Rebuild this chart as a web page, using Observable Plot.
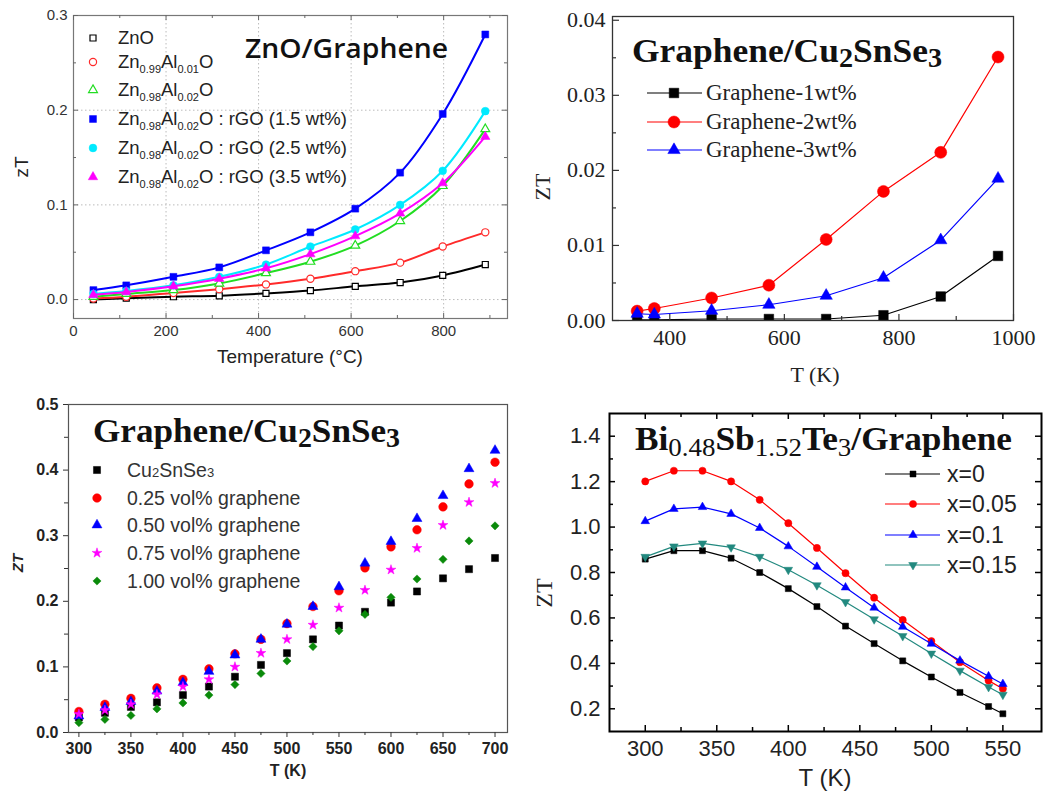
<!DOCTYPE html>
<html><head><meta charset="utf-8">
<script src="https://cdn.jsdelivr.net/npm/d3@7"></script>
<script src="https://cdn.jsdelivr.net/npm/@observablehq/plot@0.6"></script>
<style>
body{margin:0;background:#fff;}
#fig{position:relative;width:1045px;height:791px;overflow:hidden;background:#fff;}
</style></head><body><div id="fig"></div>
<script>
// ===== Panel A: ZnO/Graphene =====
const aTemp = [43,114,216,315,416,512,609,706,798,890];
const aNames = ["ZnO","Zn_{0.99}Al_{0.01}O","Zn_{0.98}Al_{0.02}O","Zn_{0.98}Al_{0.02}O : rGO (1.5 wt%)","Zn_{0.98}Al_{0.02}O : rGO (2.5 wt%)","Zn_{0.98}Al_{0.02}O : rGO (3.5 wt%)"];
const aZnO   = [0.000,0.0015,0.003,0.004,0.0065,0.0095,0.014,0.018,0.0255,0.037];
const aAl01  = [0.001,0.003,0.007,0.011,0.016,0.022,0.030,0.039,0.056,0.071];
const aAl02  = [0.003,0.006,0.010,0.017,0.028,0.040,0.057,0.083,0.120,0.180];
const aRgo15 = [0.010,0.015,0.024,0.034,0.052,0.071,0.096,0.134,0.196,0.280];
const aRgo25 = [0.006,0.009,0.015,0.024,0.037,0.056,0.074,0.100,0.136,0.199];
const aRgo35 = [0.005,0.008,0.014,0.022,0.033,0.048,0.067,0.091,0.123,0.172];
const aXMajor = [0,200,400,600,800], aXMinor = [100,300,500,700,900];
const aYMajor = [0,0.1,0.2,0.3], aYMinor = [0.05,0.15,0.25];

// ===== Panel B: Graphene/Cu2SnSe3 (wt%) =====
const bTemp = [343,373,473,573,673,773,873,973];
const bNames = ["Graphene-1wt%","Graphene-2wt%","Graphene-3wt%"];
const b1 = [0.0001,0.0001,0.0002,0.0002,0.0002,0.0007,0.0032,0.0086];
const b2 = [0.00125,0.0016,0.0030,0.0047,0.0108,0.0172,0.0224,0.0351];
const b3 = [0.0009,0.0008,0.0013,0.0021,0.0033,0.0057,0.0107,0.0189];
const bXMajor = [400,600,800,1000], bXMinor = [500,700,900];
const bYMajor = [0,0.01,0.02,0.03,0.04], bYMinor = [0.005,0.015,0.025,0.035];

// ===== Panel C: Graphene/Cu2SnSe3 (vol%) =====
const cTemp = [300,325,350,375,400,425,450,475,500,525,550,575,600,625,650,675,700];
const cNames = ["Cu_{2}SnSe_{3}","0.25 vol% graphene","0.50 vol% graphene","0.75 vol% graphene","1.00 vol% graphene"];
const cBase = [0.023,0.030,0.039,0.046,0.057,0.070,0.085,0.103,0.121,0.142,0.163,0.184,0.198,0.215,0.235,0.249,0.266];
const c025  = [0.032,0.043,0.052,0.068,0.081,0.097,0.120,0.142,0.166,0.192,0.216,0.251,0.283,0.309,0.344,0.379,0.412];
const c050  = [0.025,0.038,0.047,0.063,0.076,0.093,0.118,0.142,0.165,0.192,0.222,0.258,0.291,0.326,0.361,0.402,0.430];
const c075  = [0.028,0.034,0.043,0.058,0.070,0.081,0.100,0.121,0.142,0.164,0.190,0.217,0.248,0.281,0.316,0.351,0.380];
const c100  = [0.015,0.020,0.026,0.036,0.045,0.057,0.073,0.090,0.109,0.131,0.155,0.180,0.206,0.234,0.264,0.292,0.315];
const cXMajor = [300,350,400,450,500,550,600,650,700], cXMinor = [325,375,425,475,525,575,625,675];
const cYMajor = [0,0.1,0.2,0.3,0.4,0.5], cYMinor = [0.05,0.15,0.25,0.35,0.45];

// ===== Panel D: Bi0.48Sb1.52Te3/Graphene =====
const dTemp = [300,320,340,360,380,400,420,440,460,480,500,520,540,550];
const dNames = ["x=0","x=0.05","x=0.1","x=0.15"];
const d0   = [0.859,0.896,0.896,0.863,0.800,0.729,0.650,0.564,0.487,0.411,0.340,0.272,0.210,0.178];
const d005 = [1.201,1.248,1.248,1.201,1.120,1.017,0.908,0.797,0.689,0.591,0.498,0.405,0.324,0.288];
const d01  = [1.026,1.080,1.088,1.058,0.996,0.915,0.825,0.734,0.645,0.561,0.486,0.412,0.343,0.309];
const d015 = [0.869,0.915,0.928,0.911,0.869,0.812,0.744,0.670,0.594,0.520,0.443,0.368,0.296,0.262];
const dXMajor = [300,350,400,450,500,550], dXMinor = [325,375,425,475,525];
const dYMajor = [0.2,0.4,0.6,0.8,1.0,1.2,1.4], dYMinor = [0.3,0.5,0.7,0.9,1.1,1.3];

// ---------- helpers ----------
const sqrt3 = Math.sqrt(3);
const triDown = { draw(ctx, size) { const y = -Math.sqrt(size / (sqrt3 * 3)); ctx.moveTo(0, -y * 2); ctx.lineTo(-sqrt3 * y, y); ctx.lineTo(sqrt3 * y, y); ctx.closePath(); } };
const SYM = {square: d3.symbolSquare, circle: d3.symbolCircle, triangle: d3.symbolTriangle, star: d3.symbolStar, diamond: d3.symbolDiamond2, triangleDown: triDown};
const fig = document.getElementById("fig");
function place(svg, left, top){ svg.style.position="absolute"; svg.style.left=left+"px"; svg.style.top=top+"px"; fig.appendChild(svg); }
function parseSub(s){ const out=[]; const re=/_\{([^}]*)\}/g; let last=0,mm; while((mm=re.exec(s))){ if(mm.index>last) out.push([s.slice(last,mm.index),false]); out.push([mm[1],true]); last=re.lastIndex;} if(last<s.length) out.push([s.slice(last),false]); return out; }
function addText(svg, x, y, segs, o){
  const t = d3.select(svg).append("text").attr("x",x).attr("y",y)
    .attr("font-family",o.family).attr("font-size",o.size).attr("font-weight",o.weight||"normal")
    .attr("font-style",o.fstyle||"normal").attr("fill",o.fill||"#000").attr("text-anchor",o.anchor||"start");
  if (o.rotate) t.attr("transform",`rotate(${o.rotate},${x},${y})`);
  if (o.textLength) t.attr("textLength",o.textLength).attr("lengthAdjust","spacingAndGlyphs");
  let shift = 0;
  (typeof segs === "string" ? parseSub(segs) : segs).forEach(([s, sub]) => {
    const ts = t.append("tspan").text(s);
    const want = sub ? (o.subShift||0) : 0;
    if (want !== shift) { ts.attr("dy", want - shift); shift = want; }
    if (sub) { ts.attr("font-size", o.subSize); if (o.subWeight) ts.attr("font-weight", o.subWeight); }
  });
  return t;
}
function addSymbol(svg, x, y, st){
  d3.select(svg).append("path").attr("transform",`translate(${x},${y})`)
    .attr("d", d3.symbol(SYM[st.symbol], Math.PI*st.r*st.r)())
    .attr("fill", st.open ? "#fff" : st.color).attr("stroke", st.color).attr("stroke-width", st.open ? 1.2 : 0.5);
}
function inTicks(values, axis, side, len, W, H, m, stroke, sw){
  const iw = W-m.left-m.right, ih = H-m.top-m.bottom;
  if (axis === "x") return Plot.tickX(values, {x: d=>d, stroke, strokeWidth: sw, [side==="bottom"?"insetTop":"insetBottom"]: ih-len});
  return Plot.tickY(values, {y: d=>d, stroke, strokeWidth: sw, [side==="left"?"insetRight":"insetLeft"]: iw-len});
}
function seriesMarks(xs, list, styles, withLine, lineOpts, clip){
  const marks = [];
  list.forEach((vals,i)=>{
    const st = styles[i];
    const data = xs.map((x,j)=>({x, y: vals[j]}));
    if (withLine) marks.push(Plot.line(data, {x:"x", y:"y", stroke: st.color, clip: !!clip, ...lineOpts}));
    marks.push(Plot.dot(data, {x:"x", y:"y", symbol: SYM[st.symbol], r: st.r, fill: st.open ? "#fff" : st.color, stroke: st.color, strokeWidth: st.open ? 1.2 : 0.5, clip: !!clip}));
  });
  return marks;
}

// ---------- Panel A ----------
(function(){
  const W=520,H=380,m={top:15,right:13,bottom:62,left:73};
  const styles = [
    {color:"#000000",symbol:"square",r:3.4,open:true},
    {color:"#ff2a2a",symbol:"circle",r:3.6,open:true},
    {color:"#22dd22",symbol:"triangle",r:3.3,open:true},
    {color:"#0000ff",symbol:"square",r:3.9,open:false},
    {color:"#00eaff",symbol:"circle",r:3.9,open:false},
    {color:"#ff00ff",symbol:"triangle",r:3.5,open:false}];
  const svg = Plot.plot({
    width:W, height:H, marginTop:m.top, marginRight:m.right, marginBottom:m.bottom, marginLeft:m.left,
    x:{domain:[0,938]}, y:{domain:[-0.02,0.3]},
    style:{fontFamily:"Liberation Sans, Arial, sans-serif", fontSize:"15px", color:"#333", background:"transparent", overflow:"visible"},
    marks:[
      Plot.gridX(aXMajor,{stroke:"#bbb",strokeOpacity:1,strokeDasharray:"1.5,2.5"}),
      Plot.gridY(aYMajor,{stroke:"#bbb",strokeOpacity:1,strokeDasharray:"1.5,2.5"}),
      ...seriesMarks(aTemp,[aZnO,aAl01,aAl02,aRgo15,aRgo25,aRgo35],styles,true,{strokeWidth:2,curve:"catmull-rom"}),
      Plot.frame({stroke:"#777",strokeWidth:1.2}),
      inTicks(aXMajor,"x","bottom",5,W,H,m,"#666",1), inTicks(aXMinor,"x","bottom",3,W,H,m,"#666",1),
      inTicks(aXMajor,"x","top",5,W,H,m,"#666",1), inTicks(aXMinor,"x","top",3,W,H,m,"#666",1),
      inTicks(aYMajor,"y","left",5,W,H,m,"#666",1), inTicks(aYMinor,"y","left",3,W,H,m,"#666",1),
      inTicks(aYMajor,"y","right",5,W,H,m,"#666",1), inTicks(aYMinor,"y","right",3,W,H,m,"#666",1),
      Plot.axisX(aXMajor,{tickSize:0,tickPadding:7,tickFormat:d3.format("d"),label:null}),
      Plot.axisY(aYMajor,{tickSize:0,tickPadding:6,tickFormat:d3.format(".1f"),label:null})
    ]
  });
  const font = "Liberation Sans, Arial, sans-serif";
  addText(svg,245,58,"ZnO/Graphene",{family:"Open Sans, Liberation Sans, sans-serif",size:27,weight:600,fill:"#111",textLength:203});
  aNames.forEach((n,i)=>{
    const y = [38,62,90,119,148,177][i];
    addSymbol(svg,93,y,styles[i]);
    addText(svg,118,y+6,n,{family:font,size:18.5,fill:"#222",subSize:11,subShift:5});
  });
  addText(svg,28,167,"zT",{family:font,size:19,fill:"#222",anchor:"middle",rotate:-90});
  addText(svg,290,363,"Temperature (°C)",{family:font,size:19,fill:"#222",anchor:"middle"});
  place(svg,0,0);
})();

// ---------- Panel B ----------
(function(){
  const W=525,H=400,m={top:16,right:32,bottom:80,left:92};
  const styles = [
    {color:"#000000",symbol:"square",r:5.4},
    {color:"#ff0000",symbol:"circle",r:6},
    {color:"#0000ff",symbol:"triangle",r:4.6}];
  const serif = "Liberation Serif, Times New Roman, serif";
  const svg = Plot.plot({
    width:W, height:H, marginTop:m.top, marginRight:m.right, marginBottom:m.bottom, marginLeft:m.left,
    x:{domain:[300,1000]}, y:{domain:[0,0.0405]},
    style:{fontFamily:serif, fontSize:"22px", color:"#222", background:"transparent", overflow:"visible"},
    marks:[
      ...seriesMarks(bTemp,[b1,b2,b3],styles,true,{strokeWidth:1.2},true),
      Plot.frame({stroke:"#333",strokeWidth:1.3}),
      inTicks(bXMajor,"x","bottom",6,W,H,m,"#333",1.2), inTicks(bXMinor,"x","bottom",4,W,H,m,"#333",1.2),
      inTicks(bYMajor,"y","left",7,W,H,m,"#333",1.2), inTicks(bYMinor,"y","left",4,W,H,m,"#333",1.2),
      Plot.axisX(bXMajor,{tickSize:0,tickPadding:9,tickFormat:d3.format("d"),label:null}),
      Plot.axisY(bYMajor,{tickSize:0,tickPadding:7,tickFormat:d3.format(".2f"),label:null})
    ]
  });
  addText(svg,112,62,[["Graphene/Cu",false],["2",true],["SnSe",false],["3",true]],{family:serif,size:34,weight:"bold",fill:"#111",subSize:27,subShift:5,textLength:310});
  bNames.forEach((n,i)=>{
    const y = [93,122,150][i];
    d3.select(svg).append("line").attr("x1",127).attr("x2",182).attr("y1",y).attr("y2",y).attr("stroke",styles[i].color).attr("stroke-width",1.2);
    addSymbol(svg,154,y,styles[i]);
    addText(svg,186,y+7,n,{family:serif,size:23,fill:"#222"});
  });
  addText(svg,30,187,"ZT",{family:serif,size:22,fill:"#222",anchor:"middle",rotate:-90});
  addText(svg,295,382,"T (K)",{family:serif,size:22,fill:"#222",anchor:"middle"});
  place(svg,520,0);
})();

// ---------- Panel C ----------
(function(){
  const W=530,H=401,m={top:14,right:23,bottom:59,left:68};
  const styles = [
    {color:"#000000",symbol:"square",r:4.0},
    {color:"#ff0000",symbol:"circle",r:4.3},
    {color:"#0000ff",symbol:"triangle",r:3.7},
    {color:"#ff00ff",symbol:"star",r:3.1},
    {color:"#0a8a0a",symbol:"diamond",r:3.7}];
  const sans = "Liberation Sans, Arial, sans-serif";
  const serif = "Liberation Serif, Times New Roman, serif";
  const svg = Plot.plot({
    width:W, height:H, marginTop:m.top, marginRight:m.right, marginBottom:m.bottom, marginLeft:m.left,
    x:{domain:[290,712]}, y:{domain:[0,0.5]},
    style:{fontFamily:sans, fontSize:"16px", fontWeight:"bold", color:"#222", background:"transparent", overflow:"visible"},
    marks:[
      ...seriesMarks(cTemp,[cBase,c025,c050,c075,c100],styles,false),
      Plot.frame({stroke:"#555",strokeWidth:1.2}),
      Plot.axisX(cXMinor,{tickSize:3,text:null,stroke:"#333",label:null}),
      Plot.axisY(cYMinor,{tickSize:4,text:null,stroke:"#333",label:null}),
      Plot.axisX(cXMajor,{tickSize:5,tickPadding:5,stroke:"#333",tickFormat:d3.format("d"),label:null}),
      Plot.axisY(cYMajor,{tickSize:5,tickPadding:5,stroke:"#333",tickFormat:d3.format(".1f"),label:null})
    ]
  });
  addText(svg,93,52,[["Graphene/Cu",false],["2",true],["SnSe",false],["3",true]],{family:serif,size:34,weight:"bold",fill:"#111",subSize:27,subShift:5,textLength:307});
  cNames.forEach((n,i)=>{
    const y = [80,108,135,163,191][i];
    addSymbol(svg,97,y,styles[i]);
    addText(svg,127,y+7,n,{family:sans,size:19.5,fill:"#333",subSize:13,subShift:0});
  });
  addText(svg,23,173,"ZT",{family:sans,size:15,weight:"bold",fstyle:"italic",fill:"#222",anchor:"middle",rotate:-90});
  addText(svg,288,386,"T (K)",{family:sans,size:16,weight:"bold",fill:"#222",anchor:"middle"});
  place(svg,0,390);
})();

// ---------- Panel D ----------
(function(){
  const W=515,H=391,m={top:13,right:4,bottom:60,left:79};
  const styles = [
    {color:"#000000",symbol:"square",r:3.4},
    {color:"#ff0000",symbol:"circle",r:3.6},
    {color:"#0000ff",symbol:"triangle",r:3.2},
    {color:"#22897f",symbol:"triangleDown",r:3.2}];
  const sans = "Liberation Sans, Arial, sans-serif";
  const serif = "Liberation Serif, Times New Roman, serif";
  const svg = Plot.plot({
    width:W, height:H, marginTop:m.top, marginRight:m.right, marginBottom:m.bottom, marginLeft:m.left,
    x:{domain:[275,577]}, y:{domain:[0.1,1.5]},
    style:{fontFamily:sans, fontSize:"22px", color:"#222", background:"transparent", overflow:"visible"},
    marks:[
      ...seriesMarks(dTemp,[d0,d005,d01,d015],styles,true,{strokeWidth:1.2}),
      Plot.frame({stroke:"#000",strokeWidth:2}),
      inTicks(dXMajor,"x","bottom",6,W,H,m,"#000",1.5), inTicks(dXMinor,"x","bottom",4,W,H,m,"#000",1.5),
      inTicks(dXMajor,"x","top",6,W,H,m,"#000",1.5), inTicks(dXMinor,"x","top",4,W,H,m,"#000",1.5),
      inTicks(dYMajor,"y","left",6,W,H,m,"#000",1.5), inTicks(dYMinor,"y","left",4,W,H,m,"#000",1.5),
      inTicks(dYMajor,"y","right",6,W,H,m,"#000",1.5), inTicks(dYMinor,"y","right",4,W,H,m,"#000",1.5),
      Plot.axisX(dXMajor,{tickSize:0,tickPadding:9,tickFormat:d3.format("d"),label:null}),
      Plot.axisY(dYMajor,{tickSize:0,tickPadding:9,tickFormat:d3.format(".1f"),label:null})
    ]
  });
  addText(svg,105,50,[["Bi",false],["0.48",true],["Sb",false],["1.52",true],["Te",false],["3",true],["/Graphene",false]],{family:serif,size:34,weight:"bold",fill:"#111",subSize:26,subShift:6,subWeight:"normal",textLength:377});
  dNames.forEach((n,i)=>{
    const y = [74,104,135,165][i];
    d3.select(svg).append("line").attr("x1",355).attr("x2",410).attr("y1",y).attr("y2",y).attr("stroke",styles[i].color).attr("stroke-width",1.2);
    addSymbol(svg,383,y,styles[i]);
    addText(svg,417,y+8,n,{family:sans,size:23,fill:"#222"});
  });
  addText(svg,22,193,"ZT",{family:serif,size:24,fill:"#222",anchor:"middle",rotate:-90});
  addText(svg,295,386,"T (K)",{family:sans,size:24,fill:"#222",anchor:"middle"});
  place(svg,530,400);
})();
</script></body></html>
